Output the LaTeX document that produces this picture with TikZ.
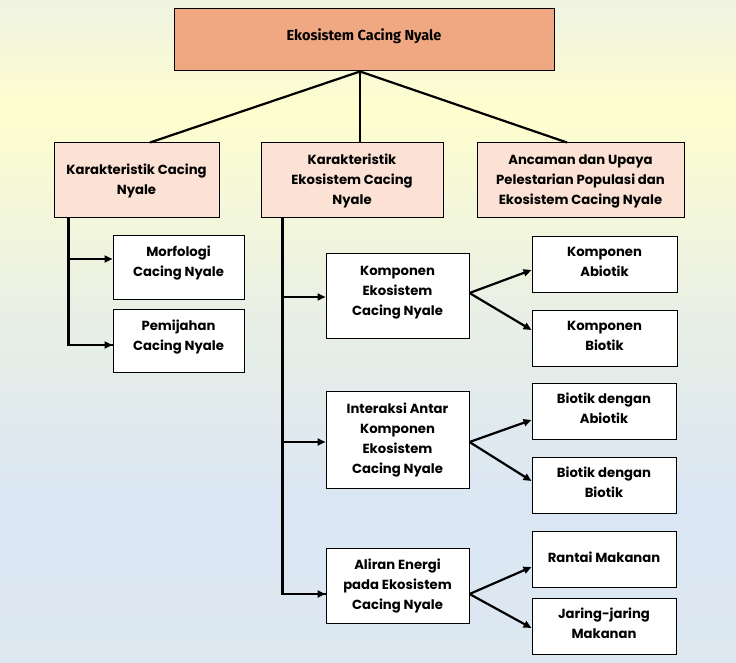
\documentclass[tikz,border=0pt]{standalone}
\usepackage{fontspec}
\setmainfont{Poppins}
\newfontfamily\titlefont{Fira Sans}
\usetikzlibrary{arrows.meta,calc}
\definecolor{bgA}{HTML}{EFF3E2}
\definecolor{bgB}{HTML}{FEFECE}
\definecolor{bgC}{HTML}{EAF0E4}
\definecolor{bgD}{HTML}{DAE6F4}
\definecolor{bgE}{HTML}{DDE8F0}
\definecolor{topfill}{HTML}{F0A882}
\definecolor{lvfill}{HTML}{FBE2D5}
\newcommand{\ml}[2]{\raisebox{#1pt}[\height][\depth]{\begin{tabular}{@{}c@{}}#2\end{tabular}}}
\begin{document}
\begin{tikzpicture}[x=1pt,y=-1pt,
  box/.style={draw=black,line width=1pt,rectangle,align=center,inner sep=0pt,
    font=\bfseries\fontsize{13.2}{20}\selectfont},
  wbox/.style={box,fill=white},
  pbox/.style={box,fill=lvfill},
  conn/.style={line width=2.2pt},
  arr/.style={line width=2.2pt,-{Triangle[length=8pt,width=7pt]}}]
\useasboundingbox (0,0) rectangle (736,663);
\shade[top color=bgA,bottom color=bgB] (0,0) rectangle (736,111);
\shade[top color=bgB,bottom color=bgC] (0,110) rectangle (736,301);
\shade[top color=bgC,bottom color=bgD] (0,300) rectangle (736,501);
\shade[top color=bgD,bottom color=bgE] (0,500) rectangle (736,663);

% top
\node[box,fill=topfill,minimum width=380pt,minimum height=62pt,
  font=\titlefont\bfseries\fontsize{14.5}{20}\selectfont] (top) at (364,40) {\raisebox{4pt}[\height][\depth]{Ekosistem Cacing Nyale}};

% level 1
\node[pbox,minimum width=165pt,minimum height=75pt] (kc) at (136.5,180.5) {\ml{0}{Karakteristik Cacing\\Nyale}};
\node[pbox,minimum width=182pt,minimum height=75pt] (ke) at (352,180.5) {\ml{0}{Karakteristik\\Ekosistem Cacing\\Nyale}};
\node[pbox,minimum width=207pt,minimum height=75pt] (au) at (580.5,180.5) {\ml{0}{Ancaman dan Upaya\\Pelestarian Populasi dan\\Ekosistem Cacing Nyale}};

% left children
\node[wbox,minimum width=131pt,minimum height=64pt] (mor) at (178.5,267) {\ml{4.5}{Morfologi\\Cacing Nyale}};
\node[wbox,minimum width=131pt,minimum height=63pt] (pem) at (178.5,340.5) {\ml{4}{Pemijahan\\Cacing Nyale}};

% middle children
\node[wbox,minimum width=143pt,minimum height=85pt] (kek) at (397.5,295.5) {\ml{4.5}{Komponen\\Ekosistem\\Cacing Nyale}};
\node[wbox,minimum width=143pt,minimum height=97pt] (int) at (397.5,439.5) {\ml{0.5}{Interaksi Antar\\Komponen\\Ekosistem\\Cacing Nyale}};
\node[wbox,minimum width=143pt,minimum height=75pt] (ali) at (397.5,585.5) {\ml{0}{Aliran Energi\\pada Ekosistem\\Cacing Nyale}};

% right children
\node[wbox,minimum width=145pt,minimum height=56pt] (abi) at (604.5,264) {\ml{2}{Komponen\\Abiotik}};
\node[wbox,minimum width=145pt,minimum height=56pt] (bio) at (604.5,338) {\ml{2}{Komponen\\Biotik}};
\node[wbox,minimum width=144pt,minimum height=56pt] (bda) at (604,411) {\ml{2}{Biotik dengan\\Abiotik}};
\node[wbox,minimum width=144pt,minimum height=56pt] (bdb) at (604,485) {\ml{2}{Biotik dengan\\Biotik}};
\node[wbox,minimum width=144pt,minimum height=56pt] (ran) at (604,559) {\raisebox{3pt}{Rantai Makanan}};
\node[wbox,minimum width=144pt,minimum height=56pt] (jar) at (604,626) {\ml{2}{Jaring-jaring\\Makanan}};

% connectors top
\coordinate (tp) at ([xshift=-4pt]top.south);
\draw[conn] (tp) -- ([xshift=13.5pt]kc.north);
\draw[conn] (tp) -- ([xshift=8pt]ke.north);
\draw[conn] (tp) -- ([xshift=-13.5pt]au.north);

% left tree
\coordinate (kcv) at ([xshift=15pt]kc.south west);
\draw[conn] (kcv) |- ([yshift=-4.5pt]pem.west);
\draw[arr] ([yshift=-4.5pt]pem.west -| kcv) -- ([yshift=-4.5pt]pem.west);
\draw[arr] ([yshift=8pt]mor.west -| kcv) -- ([yshift=8pt]mor.west);

% middle tree
\coordinate (kev) at ([xshift=22pt]ke.south west);
\draw[conn] (kev) |- ([yshift=-8.5pt]ali.west);
\draw[arr] ([yshift=-1.5pt]kek.west -| kev) -- ([yshift=-1.5pt]kek.west);
\draw[arr] ([yshift=-2.5pt]int.west -| kev) -- ([yshift=-2.5pt]int.west);
\draw[arr] ([yshift=-8.5pt]ali.west -| kev) -- ([yshift=-8.5pt]ali.west);

% right arrows
\coordinate (k1) at ([yshift=2.5pt]kek.east);
\draw[arr] (k1) -- ([yshift=-6pt]abi.west);
\draw[arr] (k1) -- ([yshift=8pt]bio.west);
\coordinate (k2) at ([yshift=-2.5pt]int.east);
\draw[arr] (k2) -- ([yshift=-9pt]bda.west);
\draw[arr] (k2) -- ([yshift=4pt]bdb.west);
\coordinate (k3) at ([yshift=-8.5pt]ali.east);
\draw[arr] (k3) -- ([yshift=-8pt]ran.west);
\draw[arr] (k3) -- ([yshift=-2pt]jar.west);
\end{tikzpicture}
\end{document}
